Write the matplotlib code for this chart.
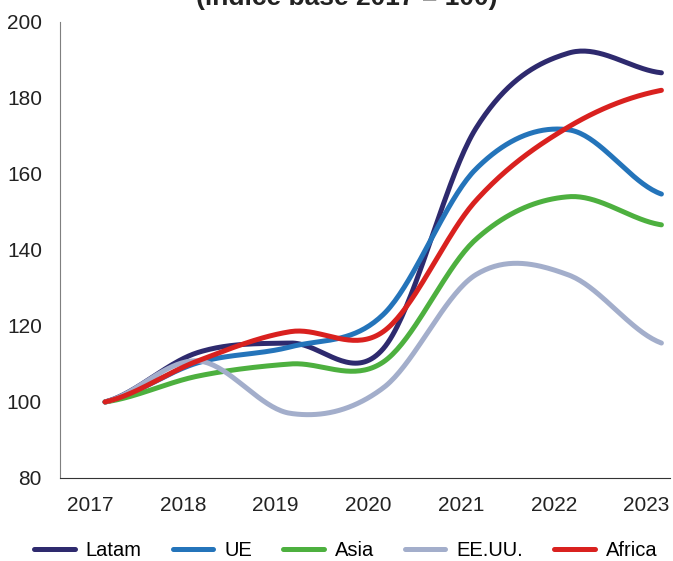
import matplotlib.pyplot as plt
import numpy as np

years = ["2017", "2018", "2019", "2020", "2021", "2022", "2023"]
latam = [100, 113.0, 115.5, 114.0, 172.0, 191.8, 186.6]
ue = [100, 110.3, 114.5, 123.0, 161.3, 171.6, 154.7]
asia = [100, 106.8, 110.0, 110.5, 142.8, 154.0, 146.6]
eeuu = [100, 110.8, 97.0, 103.7, 133.5, 133.4, 115.5]
africa = [100, 110.8, 118.5, 118.5, 153.0, 172.4, 182.0]

names = ["Latam", "UE", "Asia", "EE.UU.", "Africa"]
colors = ["#2E2A6E", "#2474BA", "#4DB03F", "#A3AECB", "#D9211F"]


def smooth(y, n=40):
    # catmull-rom, like the "smoothed line" option in spreadsheets
    y = np.asarray(y, float)
    p = np.concatenate([[y[0]], y, [y[-1]]])
    xs, ys = [], []
    t = np.linspace(0, 1, n, endpoint=False)
    for i in range(len(y) - 1):
        p0, p1, p2, p3 = p[i], p[i + 1], p[i + 2], p[i + 3]
        m1 = (p2 - p0) / 2
        m2 = (p3 - p1) / 2
        h00 = 2 * t**3 - 3 * t**2 + 1
        h10 = t**3 - 2 * t**2 + t
        h01 = -2 * t**3 + 3 * t**2
        h11 = t**3 - t**2
        xs.append(i + t)
        ys.append(h00 * p1 + h10 * m1 + h01 * p2 + h11 * m2)
    xs.append([len(y) - 1])
    ys.append([y[-1]])
    return np.concatenate(xs), np.concatenate(ys)


plt.rcParams['font.family'] = ['Liberation Sans', 'DejaVu Sans']

fig = plt.figure(figsize=(6.73, 5.61), dpi=100)
ax = fig.add_axes([0.0892, 0.148, 0.906, 0.813])

for vals, name, c in zip([latam, ue, asia, eeuu, africa], names, colors):
    sx, sy = smooth(vals)
    ax.plot(sx, sy, color=c, lw=3.6, solid_capstyle='round', label=name)

ax.set_ylim(80, 200)
ax.set_yticks(range(80, 201, 20))
ax.set_xlim(-0.485, 6.09)
ax.set_xticks(np.arange(len(years)) - 0.16)
ax.set_xticklabels(years)
ax.tick_params(length=0, labelsize=15, colors='#222222')
ax.tick_params(axis='y', pad=13)
ax.tick_params(axis='x', pad=13)

for s in ['top', 'right']:
    ax.spines[s].set_visible(False)
ax.spines['left'].set_color('#7f7f7f')
ax.spines['bottom'].set_color('#333333')

fig.text(0.515, 0.991, "(índice base 2017 = 100)", ha='center', va='baseline',
         fontsize=19, fontweight='bold', color='#222222')

fig.legend(loc='center', bbox_to_anchor=(0.514, 0.018), ncol=5, frameon=False,
           fontsize=14.5, handlelength=2.0, handletextpad=0.55, columnspacing=1.55,
           borderpad=0, borderaxespad=0)

fig.savefig("out.png", dpi=100)
